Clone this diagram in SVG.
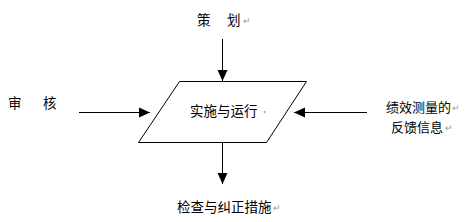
<svg xmlns="http://www.w3.org/2000/svg" width="465" height="222" viewBox="0 0 465 222">
<style>
text{font-family:"Noto Sans CJK SC","Noto Sans",sans-serif;font-size:13.5px;fill:#000}
.f{font-size:13px}
.m{font-size:9px;fill:#999}
.e{fill:none;stroke:#000;stroke-width:1}
</style>
<defs>
<marker id="ah" markerUnits="userSpaceOnUse" markerWidth="12" markerHeight="12" refX="11" refY="5.5" orient="auto">
<path d="M0,0.5 L11,5.5 L0,10.5 Z" fill="#000"/>
</marker>
</defs>
<rect width="465" height="222" fill="#fff"/>
<g id="process">
<polygon class="e" points="179.5,81.5 306.5,81.5 266.5,142.5 138.5,142.5"/>
<text x="190" y="116">实施与运行</text>
<text class="m" x="260" y="115">·</text>
</g>
<g id="plan">
<text x="197" y="25">策</text>
<text x="227" y="25">划</text>
<text class="m" x="243" y="24">↵</text>
</g>
<g id="audit">
<text x="8" y="108">审</text>
<text x="43" y="108">核</text>
</g>
<g id="feedback">
<text class="f" x="386" y="112">绩效测量的</text>
<text class="m" x="452" y="111">↵</text>
<text class="f" x="391" y="132">反馈信息</text>
<text class="m" x="445" y="131">↵</text>
</g>
<g id="check">
<text x="177" y="212">检查与纠正措施</text>
<text class="m" x="273" y="211">↵</text>
</g>
<g id="connectors">
<line class="e" x1="222.5" y1="39" x2="222.5" y2="81" marker-end="url(#ah)"/>
<line class="e" x1="79" y1="112.5" x2="150" y2="112.5" marker-end="url(#ah)"/>
<line class="e" x1="367" y1="112.5" x2="294" y2="112.5" marker-end="url(#ah)"/>
<line class="e" x1="222.5" y1="143" x2="222.5" y2="184" marker-end="url(#ah)"/>
</g>
</svg>
